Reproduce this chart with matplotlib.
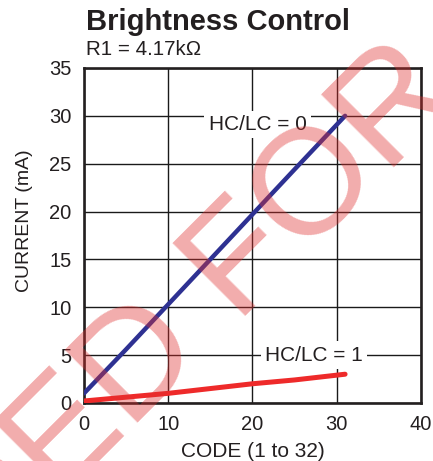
import matplotlib
matplotlib.use('agg')
import matplotlib.pyplot as plt

# data
code = [0, 5, 10, 15, 20, 25, 31]
hclc0_ma = [1.0, 5.6, 10.3, 15.0, 19.7, 24.4, 30.0]
hclc1_ma = [0.2, 0.6, 1.0, 1.5, 2.0, 2.4, 3.0]
x_ticks = [0, 10, 20, 30, 40]
y_ticks = [0, 5, 10, 15, 20, 25, 30, 35]

plt.rcParams['font.family'] = ['Liberation Sans', 'DejaVu Sans']

fig = plt.figure(figsize=(4.33, 4.61), dpi=100)
ax = fig.add_axes([0.194, 0.126, 0.778, 0.7265])

ax.plot(code, hclc0_ma, color='#2E3192', lw=3.2, solid_capstyle='round', zorder=3)
ax.plot(code, hclc1_ma, color='#EE2A2A', lw=3.6, solid_capstyle='round', zorder=3)

ax.set_xlim(0, 40)
ax.set_ylim(0, 35)
ax.set_xticks(x_ticks)
ax.set_yticks(y_ticks)
ax.grid(True, color='#1a1a1a', lw=1.0)
ax.set_axisbelow(True)
ax.tick_params(length=0, labelsize=14.5, colors='#231f20', pad=9)
for s in ax.spines.values():
    s.set_linewidth(1.9)
    s.set_color('#231f20')

ax.set_xlabel('CODE (1 to 32)', fontsize=15, color='#231f20')
ax.set_ylabel('CURRENT (mA)', fontsize=14, color='#231f20')
ax.xaxis.set_label_coords(0.5, -0.117)
ax.yaxis.set_label_coords(-0.15, 0.543)

# curve labels sitting on the grid with white boxes
box = dict(boxstyle='square,pad=0.2', fc='white', ec='none')
ax.text(20.6, 29.1, 'HC/LC = 0', fontsize=15, color='#231f20',
        ha='center', va='center', bbox=box, zorder=2)
ax.text(27.3, 5.0, 'HC/LC = 1', fontsize=15, color='#231f20',
        ha='center', va='center', bbox=box, zorder=2)

# title block
fig.text(86 / 433, 1 - 30 / 461, 'Brightness Control', fontsize=21,
         fontweight='bold', color='#231f20', ha='left', va='baseline')
fig.text(86 / 433, 1 - 55 / 461, 'R1 = 4.17k\u03a9', fontsize=14.8,
         color='#231f20', ha='left', va='baseline')

# diagonal watermark
wm = dict(fontsize=109, color='#E03030', alpha=0.4, rotation=45,
          rotation_mode='anchor', va='baseline', zorder=10)
fig.text(207 / 433, 1 - 354 / 461, 'NOT RECOMMENDED', ha='right', **wm)
fig.text(237 / 433, 1 - 324 / 461, 'FOR NEW DESIGNS', ha='left', **wm)

plt.savefig('out.png', dpi=100)
plt.close(fig)
